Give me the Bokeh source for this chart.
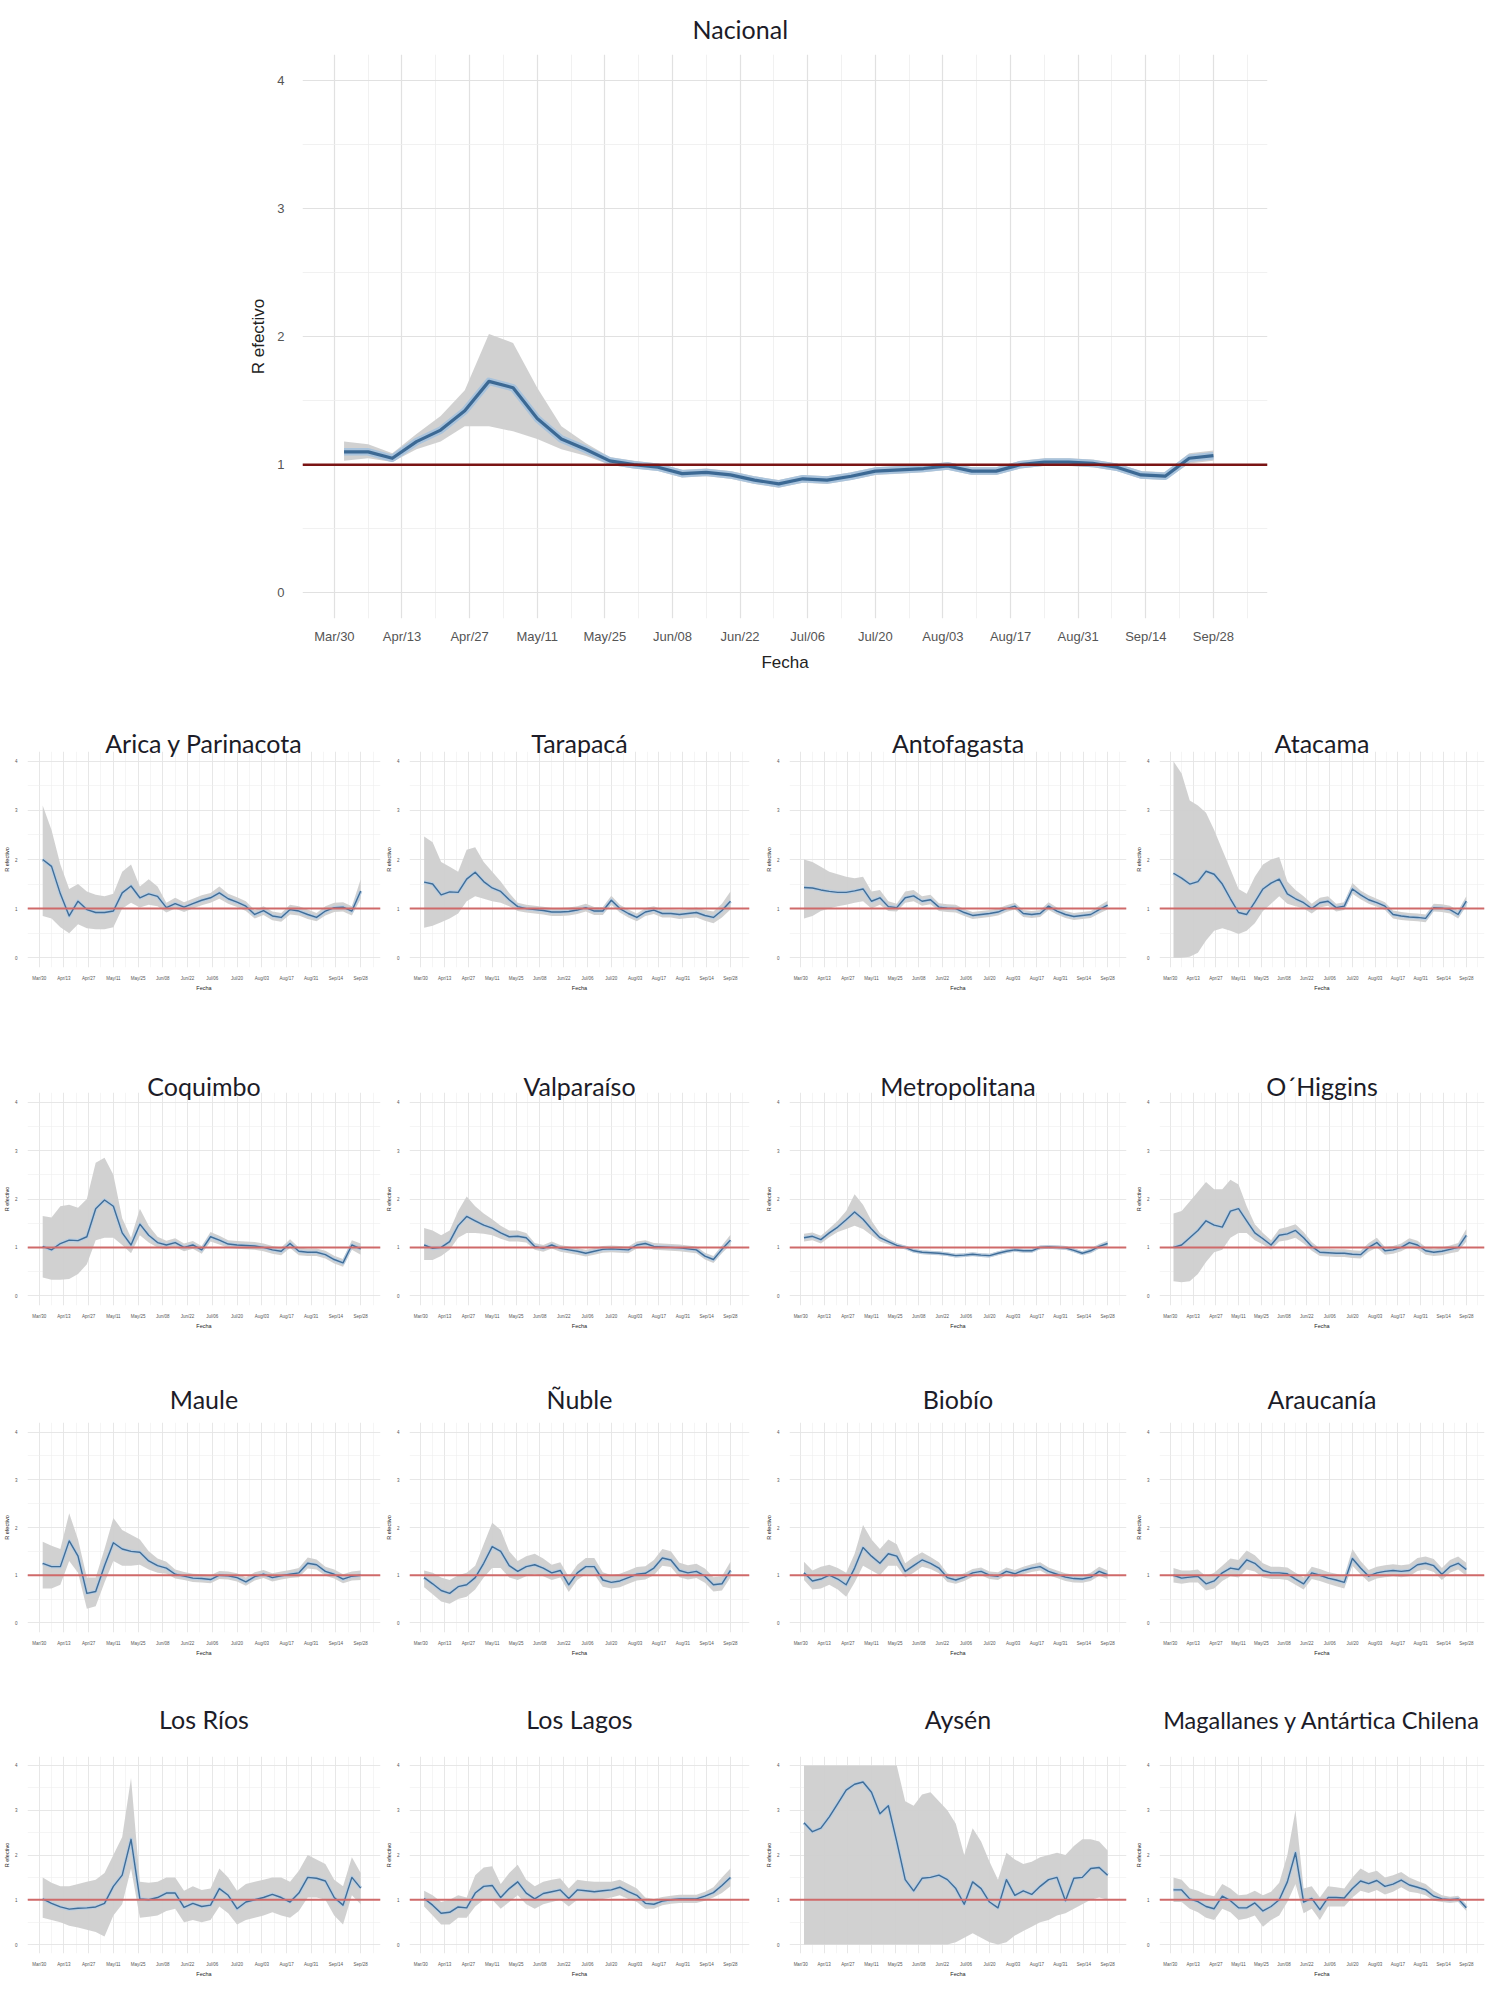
import pandas as pd
from bokeh.plotting import figure
from bokeh.layouts import column, row
from bokeh.models import Spacer, FixedTicker, Range1d, Span
from bokeh.embed import file_html
from bokeh.resources import INLINE

# ---------------- data ----------------
BASE = "2020-03-30"
DATES = ["2020-04-01", "2020-04-06", "2020-04-11", "2020-04-16", "2020-04-21", "2020-04-26",
         "2020-05-01", "2020-05-06", "2020-05-11", "2020-05-16", "2020-05-21", "2020-05-26",
         "2020-05-31", "2020-06-05", "2020-06-10", "2020-06-15", "2020-06-20", "2020-06-25",
         "2020-06-30", "2020-07-05", "2020-07-10", "2020-07-15", "2020-07-20", "2020-07-25",
         "2020-07-30", "2020-08-04", "2020-08-09", "2020-08-14", "2020-08-19", "2020-08-24",
         "2020-08-29", "2020-09-03", "2020-09-08", "2020-09-13", "2020-09-18", "2020-09-23",
         "2020-09-28"]
TICK_DATES = ["2020-03-30", "2020-04-13", "2020-04-27", "2020-05-11", "2020-05-25", "2020-06-08",
              "2020-06-22", "2020-07-06", "2020-07-20", "2020-08-03", "2020-08-17", "2020-08-31",
              "2020-09-14", "2020-09-28"]
TICK_LABELS = ["Mar/30", "Apr/13", "Apr/27", "May/11", "May/25", "Jun/08", "Jun/22", "Jul/06",
               "Jul/20", "Aug/03", "Aug/17", "Aug/31", "Sep/14", "Sep/28"]
Y_TICKS = [0, 1, 2, 3, 4]
Y_MINOR = [0.5, 1.5, 2.5, 3.5]

NACIONAL_R = [1.10, 1.10, 1.05, 1.18, 1.27, 1.42, 1.65, 1.60, 1.36, 1.20, 1.12, 1.03, 1.00, 0.98, 0.93, 0.94, 0.92, 0.88, 0.85, 0.89, 0.88, 0.91, 0.95, 0.96, 0.97, 0.99, 0.95, 0.95, 1.00, 1.02, 1.02, 1.01, 0.98, 0.92, 0.91, 1.05, 1.07]
NACIONAL_LO = [1.03, 1.05, 1.02, 1.12, 1.18, 1.30, 1.30, 1.26, 1.20, 1.12, 1.07, 1.00, 0.97, 0.95, 0.90, 0.91, 0.89, 0.85, 0.82, 0.86, 0.85, 0.88, 0.92, 0.93, 0.94, 0.96, 0.92, 0.92, 0.97, 0.99, 0.99, 0.98, 0.95, 0.89, 0.88, 1.01, 1.03]
NACIONAL_HI = [1.18, 1.16, 1.09, 1.24, 1.38, 1.58, 2.02, 1.95, 1.60, 1.30, 1.17, 1.06, 1.03, 1.01, 0.96, 0.97, 0.95, 0.91, 0.88, 0.92, 0.91, 0.94, 0.98, 0.99, 1.00, 1.02, 0.98, 0.98, 1.03, 1.05, 1.05, 1.04, 1.01, 0.95, 0.94, 1.09, 1.11]

ARICA_R = [2.00, 1.86, 1.30, 0.85, 1.15, 0.98, 0.92, 0.92, 0.95, 1.32, 1.46, 1.22, 1.30, 1.25, 1.02, 1.10, 1.03, 1.10, 1.17, 1.22, 1.32, 1.20, 1.13, 1.05, 0.88, 0.96, 0.85, 0.82, 0.98, 0.95, 0.88, 0.82, 0.95, 1.02, 1.03, 0.95, 1.36]
ARICA_LO = [0.85, 0.80, 0.62, 0.50, 0.68, 0.60, 0.58, 0.58, 0.62, 1.00, 1.12, 1.02, 1.08, 1.05, 0.92, 1.00, 0.93, 1.00, 1.07, 1.12, 1.20, 1.10, 1.03, 0.95, 0.80, 0.87, 0.76, 0.73, 0.88, 0.86, 0.79, 0.74, 0.86, 0.93, 0.94, 0.86, 1.20]
ARICA_HI = [3.10, 2.60, 1.90, 1.40, 1.50, 1.35, 1.28, 1.25, 1.30, 1.75, 1.90, 1.45, 1.60, 1.45, 1.12, 1.22, 1.13, 1.20, 1.27, 1.32, 1.45, 1.30, 1.23, 1.15, 0.97, 1.05, 0.94, 0.91, 1.08, 1.05, 0.98, 0.91, 1.05, 1.12, 1.13, 1.05, 1.60]

TARAPACA_R = [1.54, 1.50, 1.28, 1.34, 1.33, 1.60, 1.74, 1.55, 1.42, 1.35, 1.18, 1.04, 1.00, 0.98, 0.96, 0.93, 0.93, 0.94, 0.97, 1.02, 0.95, 0.95, 1.17, 1.00, 0.90, 0.82, 0.93, 0.97, 0.90, 0.90, 0.88, 0.90, 0.92, 0.86, 0.82, 0.96, 1.15]
TARAPACA_LO = [0.61, 0.65, 0.72, 0.80, 0.90, 1.15, 1.25, 1.20, 1.15, 1.12, 1.05, 0.95, 0.92, 0.90, 0.88, 0.85, 0.85, 0.86, 0.89, 0.94, 0.87, 0.87, 1.08, 0.92, 0.82, 0.74, 0.85, 0.89, 0.82, 0.82, 0.79, 0.81, 0.82, 0.75, 0.70, 0.82, 0.98]
TARAPACA_HI = [2.47, 2.35, 1.95, 1.85, 1.75, 2.20, 2.25, 1.95, 1.75, 1.55, 1.32, 1.12, 1.08, 1.06, 1.04, 1.01, 1.01, 1.02, 1.05, 1.10, 1.03, 1.03, 1.26, 1.08, 0.98, 0.90, 1.01, 1.05, 0.98, 0.98, 0.97, 0.99, 1.02, 0.97, 0.94, 1.10, 1.35]

ANTOFAGASTA_R = [1.43, 1.42, 1.38, 1.35, 1.33, 1.33, 1.36, 1.40, 1.15, 1.22, 1.04, 1.02, 1.22, 1.26, 1.15, 1.18, 1.03, 1.01, 1.00, 0.92, 0.86, 0.88, 0.90, 0.93, 1.00, 1.05, 0.90, 0.88, 0.90, 1.05, 0.95, 0.88, 0.84, 0.86, 0.88, 0.98, 1.07]
ANTOFAGASTA_LO = [0.80, 0.85, 0.95, 1.00, 1.05, 1.08, 1.12, 1.15, 1.00, 1.08, 0.95, 0.94, 1.12, 1.15, 1.06, 1.09, 0.95, 0.93, 0.92, 0.85, 0.79, 0.81, 0.83, 0.86, 0.93, 0.98, 0.83, 0.81, 0.83, 0.97, 0.88, 0.81, 0.77, 0.79, 0.81, 0.90, 0.98]
ANTOFAGASTA_HI = [2.00, 1.95, 1.85, 1.75, 1.70, 1.65, 1.62, 1.65, 1.35, 1.38, 1.15, 1.10, 1.35, 1.38, 1.25, 1.28, 1.11, 1.09, 1.08, 0.99, 0.93, 0.95, 0.97, 1.00, 1.07, 1.12, 0.97, 0.95, 0.97, 1.13, 1.02, 0.95, 0.91, 0.93, 0.95, 1.06, 1.16]

ATACAMA_R = [1.72, 1.62, 1.50, 1.55, 1.76, 1.70, 1.50, 1.20, 0.92, 0.88, 1.13, 1.40, 1.52, 1.60, 1.30, 1.20, 1.12, 1.00, 1.12, 1.15, 1.02, 1.05, 1.40, 1.28, 1.18, 1.12, 1.05, 0.88, 0.85, 0.83, 0.82, 0.80, 1.02, 1.01, 0.98, 0.88, 1.15]
ATACAMA_LO = [0.00, 0.00, 0.02, 0.10, 0.35, 0.55, 0.60, 0.55, 0.48, 0.55, 0.70, 0.95, 1.10, 1.25, 1.10, 1.05, 1.00, 0.90, 1.02, 1.06, 0.94, 0.97, 1.30, 1.19, 1.10, 1.04, 0.97, 0.80, 0.77, 0.75, 0.74, 0.72, 0.94, 0.93, 0.90, 0.80, 1.05]
ATACAMA_HI = [4.00, 3.75, 3.20, 3.10, 2.95, 2.60, 2.20, 1.80, 1.40, 1.30, 1.65, 1.90, 2.00, 2.05, 1.55, 1.38, 1.25, 1.10, 1.22, 1.25, 1.10, 1.13, 1.52, 1.37, 1.27, 1.20, 1.13, 0.96, 0.93, 0.91, 0.90, 0.88, 1.10, 1.09, 1.06, 0.96, 1.25]

COQUIMBO_R = [1.02, 0.95, 1.08, 1.15, 1.14, 1.22, 1.80, 1.98, 1.85, 1.30, 1.05, 1.48, 1.25, 1.10, 1.05, 1.10, 1.00, 1.05, 0.95, 1.22, 1.15, 1.07, 1.05, 1.04, 1.03, 1.00, 0.95, 0.92, 1.08, 0.92, 0.90, 0.90, 0.85, 0.75, 0.68, 1.05, 0.97]
COQUIMBO_LO = [0.38, 0.33, 0.33, 0.35, 0.45, 0.65, 1.15, 1.20, 1.20, 1.05, 0.88, 1.25, 1.10, 1.00, 0.96, 1.01, 0.92, 0.97, 0.87, 1.12, 1.06, 0.99, 0.97, 0.96, 0.95, 0.92, 0.87, 0.84, 0.99, 0.84, 0.82, 0.82, 0.77, 0.67, 0.60, 0.95, 0.85]
COQUIMBO_HI = [1.65, 1.62, 1.85, 1.88, 1.82, 2.00, 2.75, 2.85, 2.50, 1.60, 1.20, 1.80, 1.45, 1.22, 1.14, 1.19, 1.08, 1.13, 1.03, 1.32, 1.24, 1.15, 1.13, 1.12, 1.11, 1.08, 1.03, 1.00, 1.17, 1.00, 0.98, 0.98, 0.93, 0.83, 0.76, 1.15, 1.08]

VALPARAISO_R = [1.05, 0.98, 1.00, 1.12, 1.45, 1.64, 1.55, 1.46, 1.40, 1.30, 1.22, 1.23, 1.20, 1.02, 0.98, 1.05, 0.98, 0.95, 0.92, 0.88, 0.92, 0.96, 0.97, 0.96, 0.95, 1.05, 1.08, 1.02, 1.01, 1.00, 0.99, 0.97, 0.95, 0.82, 0.75, 0.96, 1.15]
VALPARAISO_LO = [0.74, 0.74, 0.82, 0.95, 1.20, 1.30, 1.30, 1.28, 1.25, 1.18, 1.12, 1.12, 1.10, 0.95, 0.91, 0.98, 0.91, 0.88, 0.85, 0.81, 0.85, 0.89, 0.90, 0.89, 0.88, 0.98, 1.01, 0.95, 0.94, 0.93, 0.92, 0.90, 0.88, 0.75, 0.68, 0.88, 1.05]
VALPARAISO_HI = [1.40, 1.35, 1.25, 1.35, 1.75, 2.05, 1.85, 1.70, 1.58, 1.45, 1.35, 1.35, 1.30, 1.09, 1.05, 1.12, 1.05, 1.02, 0.99, 0.95, 0.99, 1.03, 1.04, 1.03, 1.02, 1.12, 1.15, 1.09, 1.08, 1.07, 1.06, 1.04, 1.02, 0.89, 0.82, 1.04, 1.26]

METROPOLITANA_R = [1.20, 1.23, 1.16, 1.30, 1.42, 1.57, 1.73, 1.58, 1.38, 1.20, 1.12, 1.04, 1.00, 0.93, 0.90, 0.89, 0.88, 0.86, 0.83, 0.84, 0.86, 0.84, 0.83, 0.88, 0.92, 0.95, 0.93, 0.93, 1.00, 1.01, 1.00, 0.99, 0.94, 0.88, 0.93, 1.02, 1.08]
METROPOLITANA_LO = [1.12, 1.15, 1.08, 1.21, 1.32, 1.38, 1.45, 1.38, 1.25, 1.12, 1.06, 0.99, 0.96, 0.89, 0.86, 0.85, 0.84, 0.82, 0.79, 0.80, 0.82, 0.80, 0.79, 0.84, 0.88, 0.91, 0.89, 0.89, 0.96, 0.97, 0.96, 0.95, 0.90, 0.84, 0.88, 0.97, 1.02]
METROPOLITANA_HI = [1.28, 1.31, 1.24, 1.39, 1.55, 1.75, 2.10, 1.88, 1.55, 1.30, 1.18, 1.09, 1.04, 0.97, 0.94, 0.93, 0.92, 0.90, 0.87, 0.88, 0.90, 0.88, 0.87, 0.92, 0.96, 0.99, 0.97, 0.97, 1.04, 1.05, 1.04, 1.03, 0.98, 0.92, 0.98, 1.07, 1.14]

OHIGGINS_R = [1.00, 1.05, 1.20, 1.35, 1.55, 1.46, 1.42, 1.75, 1.80, 1.55, 1.30, 1.18, 1.05, 1.25, 1.28, 1.35, 1.20, 1.02, 0.90, 0.89, 0.88, 0.88, 0.86, 0.85, 1.00, 1.10, 0.93, 0.95, 1.00, 1.10, 1.05, 0.93, 0.90, 0.92, 0.96, 1.00, 1.25]
OHIGGINS_LO = [0.30, 0.28, 0.30, 0.45, 0.70, 0.90, 0.95, 1.20, 1.30, 1.30, 1.15, 1.06, 0.95, 1.12, 1.15, 1.20, 1.08, 0.93, 0.82, 0.81, 0.80, 0.80, 0.78, 0.77, 0.91, 1.00, 0.85, 0.87, 0.92, 1.01, 0.96, 0.85, 0.82, 0.84, 0.88, 0.91, 1.12]
OHIGGINS_HI = [1.70, 1.75, 1.95, 2.15, 2.35, 2.20, 2.20, 2.40, 2.30, 1.85, 1.48, 1.30, 1.15, 1.38, 1.42, 1.48, 1.32, 1.11, 0.98, 0.97, 0.96, 0.96, 0.94, 0.93, 1.09, 1.20, 1.01, 1.03, 1.08, 1.19, 1.14, 1.01, 0.98, 1.00, 1.04, 1.09, 1.38]

MAULE_R = [1.25, 1.18, 1.18, 1.72, 1.40, 0.62, 0.66, 1.20, 1.68, 1.55, 1.50, 1.48, 1.30, 1.20, 1.15, 1.02, 0.98, 0.94, 0.93, 0.91, 1.00, 0.99, 0.95, 0.86, 0.97, 1.02, 0.95, 0.99, 1.02, 1.05, 1.25, 1.22, 1.08, 1.02, 0.92, 0.98, 1.00]
MAULE_LO = [0.72, 0.72, 0.80, 1.30, 1.05, 0.30, 0.35, 0.85, 1.30, 1.20, 1.20, 1.22, 1.12, 1.05, 1.03, 0.93, 0.90, 0.86, 0.85, 0.83, 0.92, 0.91, 0.87, 0.78, 0.89, 0.94, 0.87, 0.91, 0.94, 0.96, 1.14, 1.12, 0.99, 0.93, 0.83, 0.89, 0.90]
MAULE_HI = [1.70, 1.62, 1.55, 2.30, 1.75, 0.95, 0.95, 1.55, 2.20, 1.95, 1.85, 1.75, 1.50, 1.35, 1.28, 1.12, 1.07, 1.03, 1.02, 1.00, 1.09, 1.08, 1.04, 0.95, 1.06, 1.11, 1.04, 1.08, 1.11, 1.15, 1.37, 1.33, 1.18, 1.12, 1.02, 1.08, 1.10]

NUBLE_R = [0.95, 0.82, 0.68, 0.62, 0.76, 0.80, 0.95, 1.25, 1.60, 1.50, 1.20, 1.08, 1.18, 1.22, 1.15, 1.05, 1.10, 0.80, 1.05, 1.18, 1.18, 0.90, 0.85, 0.88, 0.95, 1.02, 1.04, 1.15, 1.36, 1.32, 1.10, 1.05, 1.08, 0.98, 0.80, 0.82, 1.10]
NUBLE_LO = [0.75, 0.60, 0.45, 0.40, 0.50, 0.55, 0.70, 0.95, 1.15, 1.15, 0.95, 0.90, 0.98, 1.02, 0.98, 0.90, 0.95, 0.65, 0.90, 1.02, 1.02, 0.76, 0.72, 0.75, 0.82, 0.89, 0.91, 1.00, 1.20, 1.17, 0.96, 0.91, 0.94, 0.84, 0.66, 0.68, 0.95]
NUBLE_HI = [1.10, 1.05, 0.95, 0.90, 1.00, 1.05, 1.20, 1.65, 2.10, 1.95, 1.50, 1.30, 1.40, 1.45, 1.35, 1.22, 1.27, 0.97, 1.22, 1.36, 1.36, 1.06, 1.00, 1.03, 1.10, 1.17, 1.19, 1.32, 1.55, 1.50, 1.26, 1.21, 1.24, 1.14, 0.96, 0.98, 1.28]

BIOBIO_R = [1.05, 0.88, 0.92, 1.00, 0.92, 0.80, 1.15, 1.58, 1.40, 1.25, 1.45, 1.40, 1.08, 1.20, 1.32, 1.25, 1.15, 0.95, 0.90, 0.96, 1.05, 1.08, 1.00, 0.98, 1.08, 1.03, 1.10, 1.15, 1.18, 1.08, 1.02, 0.96, 0.93, 0.92, 0.96, 1.08, 1.01]
BIOBIO_LO = [0.90, 0.70, 0.72, 0.80, 0.70, 0.55, 0.85, 1.20, 1.10, 1.00, 1.20, 1.20, 0.95, 1.05, 1.18, 1.13, 1.04, 0.86, 0.82, 0.88, 0.97, 1.00, 0.92, 0.90, 1.00, 0.95, 1.02, 1.07, 1.10, 1.00, 0.94, 0.88, 0.85, 0.84, 0.88, 0.99, 0.92]
BIOBIO_HI = [1.28, 1.10, 1.18, 1.22, 1.15, 1.05, 1.45, 2.05, 1.75, 1.55, 1.75, 1.65, 1.25, 1.38, 1.48, 1.38, 1.27, 1.04, 0.98, 1.04, 1.13, 1.16, 1.08, 1.06, 1.16, 1.11, 1.18, 1.23, 1.27, 1.16, 1.10, 1.04, 1.01, 1.00, 1.05, 1.18, 1.10]

ARAUCANIA_R = [1.00, 0.94, 0.96, 0.98, 0.82, 0.88, 1.05, 1.15, 1.12, 1.32, 1.25, 1.10, 1.05, 1.05, 1.03, 0.92, 0.82, 1.05, 1.00, 0.94, 0.90, 0.85, 1.35, 1.15, 0.98, 1.05, 1.08, 1.10, 1.08, 1.10, 1.22, 1.25, 1.20, 1.02, 1.18, 1.25, 1.12]
ARAUCANIA_LO = [0.85, 0.82, 0.85, 0.85, 0.68, 0.72, 0.88, 0.98, 0.95, 1.12, 1.08, 0.95, 0.92, 0.92, 0.90, 0.80, 0.70, 0.92, 0.88, 0.82, 0.77, 0.72, 1.20, 1.02, 0.86, 0.93, 0.96, 0.98, 0.96, 0.98, 1.09, 1.12, 1.07, 0.90, 1.05, 1.12, 0.99]
ARAUCANIA_HI = [1.15, 1.10, 1.10, 1.12, 0.98, 1.05, 1.20, 1.35, 1.32, 1.52, 1.42, 1.25, 1.18, 1.18, 1.16, 1.05, 0.95, 1.18, 1.13, 1.07, 1.03, 0.98, 1.55, 1.30, 1.11, 1.18, 1.21, 1.23, 1.21, 1.23, 1.36, 1.39, 1.34, 1.15, 1.32, 1.39, 1.26]

LOSRIOS_R = [1.02, 0.92, 0.84, 0.79, 0.81, 0.82, 0.84, 0.92, 1.30, 1.55, 2.35, 1.02, 1.00, 1.05, 1.15, 1.15, 0.83, 0.92, 0.85, 0.88, 1.25, 1.10, 0.80, 0.95, 1.00, 1.05, 1.12, 1.05, 0.95, 1.15, 1.50, 1.48, 1.42, 1.05, 0.88, 1.50, 1.26]
LOSRIOS_LO = [0.60, 0.55, 0.50, 0.42, 0.38, 0.33, 0.28, 0.18, 0.65, 0.90, 1.70, 0.60, 0.62, 0.65, 0.75, 0.80, 0.50, 0.55, 0.50, 0.55, 0.85, 0.70, 0.45, 0.55, 0.60, 0.65, 0.72, 0.65, 0.60, 0.75, 1.05, 1.05, 1.00, 0.65, 0.45, 1.10, 0.90]
LOSRIOS_HI = [1.50, 1.38, 1.30, 1.30, 1.35, 1.40, 1.45, 1.60, 2.00, 2.40, 3.72, 1.40, 1.38, 1.40, 1.50, 1.50, 1.20, 1.30, 1.22, 1.25, 1.70, 1.50, 1.20, 1.35, 1.40, 1.45, 1.50, 1.50, 1.40, 1.65, 2.00, 1.90, 1.80, 1.45, 1.30, 1.95, 1.60]

LOSLAGOS_R = [1.03, 0.88, 0.70, 0.72, 0.84, 0.82, 1.15, 1.30, 1.32, 1.05, 1.25, 1.40, 1.15, 1.02, 1.14, 1.18, 1.22, 1.03, 1.22, 1.20, 1.18, 1.20, 1.22, 1.28, 1.18, 1.10, 0.92, 0.90, 0.97, 1.00, 1.02, 1.02, 1.02, 1.08, 1.16, 1.32, 1.50]
LOSLAGOS_LO = [0.85, 0.65, 0.45, 0.45, 0.60, 0.60, 0.85, 1.00, 1.00, 0.80, 0.95, 1.10, 0.90, 0.80, 0.90, 0.95, 1.00, 0.85, 1.00, 1.00, 0.98, 1.02, 1.05, 1.10, 1.02, 0.95, 0.80, 0.80, 0.88, 0.91, 0.93, 0.93, 0.93, 0.98, 1.05, 1.15, 1.30]
LOSLAGOS_HI = [1.20, 1.10, 0.95, 1.00, 1.10, 1.05, 1.55, 1.72, 1.75, 1.35, 1.60, 1.78, 1.45, 1.30, 1.40, 1.45, 1.48, 1.25, 1.45, 1.42, 1.40, 1.40, 1.40, 1.45, 1.35, 1.25, 1.05, 1.02, 1.06, 1.09, 1.11, 1.11, 1.11, 1.18, 1.28, 1.50, 1.70]

AYSEN_R = [2.72, 2.52, 2.60, 2.85, 3.15, 3.45, 3.58, 3.63, 3.40, 2.92, 3.10, 2.30, 1.45, 1.20, 1.48, 1.50, 1.55, 1.45, 1.25, 0.90, 1.40, 1.25, 0.95, 0.82, 1.45, 1.10, 1.20, 1.12, 1.30, 1.45, 1.50, 0.98, 1.48, 1.50, 1.70, 1.72, 1.55]
AYSEN_LO = [0.00, 0.00, 0.00, 0.00, 0.00, 0.00, 0.00, 0.00, 0.00, 0.00, 0.00, 0.00, 0.00, 0.00, 0.00, 0.00, 0.00, 0.00, 0.05, 0.15, 0.25, 0.15, 0.05, 0.00, 0.05, 0.20, 0.30, 0.40, 0.50, 0.55, 0.65, 0.70, 0.80, 0.90, 1.00, 1.05, 1.00]
AYSEN_HI = [4.00, 4.00, 4.00, 4.00, 4.00, 4.00, 4.00, 4.00, 4.00, 4.00, 4.00, 4.00, 3.20, 3.10, 3.35, 3.40, 3.20, 3.00, 2.70, 2.00, 2.60, 2.30, 1.85, 1.45, 2.05, 1.90, 1.80, 1.85, 1.95, 2.00, 2.05, 2.00, 2.20, 2.35, 2.35, 2.30, 2.10]

MAGALLANES_R = [1.22, 1.22, 1.02, 0.96, 0.85, 0.80, 1.08, 0.98, 0.82, 0.82, 0.93, 0.75, 0.85, 1.00, 1.40, 2.05, 0.95, 1.03, 0.78, 1.05, 1.05, 1.04, 1.25, 1.42, 1.36, 1.43, 1.30, 1.35, 1.44, 1.33, 1.28, 1.22, 1.08, 1.02, 1.00, 1.02, 0.82]
MAGALLANES_LO = [0.95, 0.95, 0.80, 0.72, 0.60, 0.55, 0.80, 0.72, 0.55, 0.58, 0.65, 0.40, 0.55, 0.65, 0.95, 1.35, 0.70, 0.80, 0.55, 0.85, 0.85, 0.85, 1.05, 1.20, 1.15, 1.22, 1.12, 1.18, 1.28, 1.18, 1.15, 1.10, 0.98, 0.95, 0.93, 0.95, 0.75]
MAGALLANES_HI = [1.50, 1.45, 1.25, 1.20, 1.12, 1.08, 1.35, 1.25, 1.10, 1.12, 1.20, 1.10, 1.18, 1.38, 2.00, 3.00, 1.25, 1.30, 1.05, 1.30, 1.28, 1.25, 1.50, 1.70, 1.60, 1.65, 1.50, 1.55, 1.62, 1.50, 1.42, 1.35, 1.20, 1.10, 1.07, 1.09, 0.90]

REGIONS = [
    ("Arica y Parinacota", ARICA_R, ARICA_LO, ARICA_HI),
    ("Tarapacá", TARAPACA_R, TARAPACA_LO, TARAPACA_HI),
    ("Antofagasta", ANTOFAGASTA_R, ANTOFAGASTA_LO, ANTOFAGASTA_HI),
    ("Atacama", ATACAMA_R, ATACAMA_LO, ATACAMA_HI),
    ("Coquimbo", COQUIMBO_R, COQUIMBO_LO, COQUIMBO_HI),
    ("Valparaíso", VALPARAISO_R, VALPARAISO_LO, VALPARAISO_HI),
    ("Metropolitana", METROPOLITANA_R, METROPOLITANA_LO, METROPOLITANA_HI),
    ("O\u00b4Higgins", OHIGGINS_R, OHIGGINS_LO, OHIGGINS_HI),
    ("Maule", MAULE_R, MAULE_LO, MAULE_HI),
    ("Ñuble", NUBLE_R, NUBLE_LO, NUBLE_HI),
    ("Biobío", BIOBIO_R, BIOBIO_LO, BIOBIO_HI),
    ("Araucanía", ARAUCANIA_R, ARAUCANIA_LO, ARAUCANIA_HI),
    ("Los Ríos", LOSRIOS_R, LOSRIOS_LO, LOSRIOS_HI),
    ("Los Lagos", LOSLAGOS_R, LOSLAGOS_LO, LOSLAGOS_HI),
    ("Aysén", AYSEN_R, AYSEN_LO, AYSEN_HI),
    ("Magallanes y Antártica Chilena", MAGALLANES_R, MAGALLANES_LO, MAGALLANES_HI),
]

# ---------------- helpers ----------------
def to_days(lst):
    b = pd.Timestamp(BASE)
    return [int((pd.Timestamp(d) - b).days) for d in lst]

X = to_days(DATES)
TX = to_days(TICK_DATES)
TX_MINOR = [t + 7 for t in TX]
X_RANGE = (-6.6, 193.2)
Y_RANGE = (-0.2, 4.2)

TITLE_FONT = "Lato"
AXIS_FONT = "Liberation Sans"


def build(name, r, lo, hi, width, height, mbl, mbr, mbt, mbb, standoff, big=False, title_size="25px"):
    p = figure(width=width, height=height, x_range=Range1d(*X_RANGE), y_range=Range1d(*Y_RANGE),
               output_backend="svg", toolbar_location=None,
               min_border_left=mbl, min_border_right=mbr, min_border_top=mbt, min_border_bottom=mbb)
    p.title.text = name
    p.title.text_font = TITLE_FONT
    p.title.text_font_size = title_size
    p.title.text_font_style = "normal"
    p.title.text_color = "#1c1c28"
    try:
        p.title.standoff = standoff
    except Exception:
        p.title.standoff = max(standoff, 0)
    if big:
        p.title.align = "left"
        p.title.offset = 390
    else:
        p.title.align = "center"
    p.outline_line_color = None
    p.background_fill_color = "white"
    p.border_fill_color = "white"

    p.xaxis.ticker = FixedTicker(ticks=TX, minor_ticks=TX_MINOR)
    p.yaxis.ticker = FixedTicker(ticks=Y_TICKS, minor_ticks=Y_MINOR)
    p.xaxis.major_label_overrides = {t: lab for t, lab in zip(TX, TICK_LABELS)}
    p.xaxis.axis_label = "Fecha"
    p.yaxis.axis_label = "R efectivo"
    for ax in (p.xaxis[0], p.yaxis[0]):
        ax.axis_line_color = None
        ax.major_tick_line_color = None
        ax.minor_tick_line_color = None
        ax.major_label_text_font = AXIS_FONT
        ax.axis_label_text_font = AXIS_FONT
        ax.axis_label_text_font_style = "normal"
        ax.major_label_text_color = "#555555"
        ax.axis_label_text_color = "#222222"
    if big:
        for ax in (p.xaxis[0], p.yaxis[0]):
            ax.major_label_text_font_size = "13px"
            ax.axis_label_text_font_size = "17px"
        p.xaxis.major_label_standoff = 4
        p.xaxis.axis_label_standoff = 6
        p.yaxis.major_label_standoff = 12
        p.yaxis.axis_label_standoff = 6
        gmaj, gmin, wmaj, wmin = "#e1e1e1", "#ededed", 1.2, 0.8
    else:
        for ax in (p.xaxis[0], p.yaxis[0]):
            ax.major_label_text_font_size = "4.5px"
            ax.axis_label_text_font_size = "5.5px"
        p.xaxis.major_label_standoff = 2
        p.xaxis.axis_label_standoff = 1
        p.yaxis.major_label_standoff = 4
        p.yaxis.axis_label_standoff = 2
        gmaj, gmin, wmaj, wmin = "#e4e4e4", "#efefef", 0.9, 0.6

    for g in (p.xgrid[0], p.ygrid[0]):
        g.grid_line_color = gmaj
        g.grid_line_width = wmaj
        g.minor_grid_line_color = gmin
        g.minor_grid_line_width = wmin

    p.varea(x=X, y1=lo, y2=hi, fill_color="#cfcfcf", fill_alpha=0.95)
    if big:
        p.line(X, r, line_color="#a9c3dc", line_width=7.5, line_join="round")
        p.line(X, r, line_color="#3c6994", line_width=3.2, line_join="round")
        p.add_layout(Span(location=1, dimension="width", line_color="#7a1414", line_width=2.4))
    else:
        p.line(X, r, line_color="#b9cde1", line_width=3.6, line_join="round")
        p.line(X, r, line_color="#3f6d98", line_width=1.4, line_join="round")
        p.add_layout(Span(location=1, dimension="width", line_color="#cf6a6a", line_width=2.0))
    return p


# ---------------- layout ----------------
nacional = build("Nacional", NACIONAL_R, NACIONAL_LO, NACIONAL_HI,
                 width=1040, height=720, mbl=60, mbr=15, mbt=52, mbb=102, standoff=22, big=True)
top = row(Spacer(width=242, height=720), nacional)

COL_W = [382, 380, 370, 354]
COL_L = [17, 17, 18, 14]
COL_R = [2, 13, 6, 2]
# per row: height, min_border_top, min_border_bottom, title standoff
ROWS = [(342, 31, 95, -12), (310, 30, 67, -16), (306, 48, 46, 18), (301, 76, 19, 46)]

rows = [top]
for ri, (h, mbt, mbb, so) in enumerate(ROWS):
    figs = []
    for ci in range(4):
        name, r, lo, hi = REGIONS[ri * 4 + ci]
        size = "23.5px" if len(name) > 24 else "25px"
        figs.append(build(name, r, lo, hi, width=COL_W[ci], height=h, mbl=COL_L[ci], mbr=COL_R[ci],
                          mbt=mbt, mbb=mbb, standoff=so, title_size=size))
    rows.append(row(*figs))

layout = column(*rows)
open("out.html", "w").write(file_html(layout, INLINE))
